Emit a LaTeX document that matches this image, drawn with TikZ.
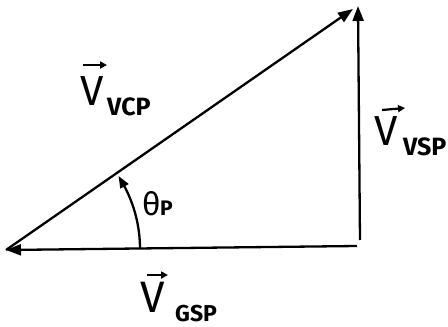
\documentclass[tikz,border=0pt]{standalone}
\usepackage{fontspec}
\setmainfont{Fira Sans}
\usetikzlibrary{arrows.meta,bending}
\begin{document}
\begin{tikzpicture}[x=1pt,y=-1pt,
  vecline/.style={line width=2.3pt,-{Triangle[length=15pt,width=11pt]}},
  arcline/.style={line width=2.3pt,-{Triangle[length=12pt,width=9pt,bend]}},
  hatarrow/.style={line width=2.2pt,-{Triangle[length=7pt,width=7pt]}},
  bigV/.style={font=\fontsize{42}{42}\selectfont,inner sep=0pt,anchor=base west},
  subtxt/.style={font=\fontsize{25}{25}\selectfont\bfseries,inner sep=0pt,anchor=base west},
  thetatxt/.style={font=\fontsize{32}{32}\selectfont,inner sep=0pt,anchor=base west}]
\useasboundingbox (0,0) rectangle (448,327);
\coordinate (A) at (6,250);
\coordinate (B) at (357,246);
\coordinate (C) at (360,240);
\coordinate (D) at (358,6);
\coordinate (E) at (353,9);
\coordinate (F) at (140,249);
\draw[vecline] (B) -- (A);
\draw[vecline] (C) -- (D);
\draw[vecline] (A) -- (E);
\draw[arcline] (F) arc[start angle=0,end angle=-33,radius=134];
% labels
\node[bigV] (v1) at (80,105) {V};
\node[subtxt] (s1) at (107,115) {VCP};
\draw[hatarrow] ([shift={(3,-40)}]v1.base west) -- ([shift={(27,-40)}]v1.base west);
\node[bigV] (v2) at (374,145) {V};
\node[subtxt] (s2) at (403,155) {VSP};
\draw[hatarrow] ([shift={(8,-35)}]v2.base west) -- ([shift={(31,-37)}]v2.base west);
\node[bigV,font=\fontsize{44}{44}\selectfont] (v3) at (140,312) {V};
\node[subtxt,font=\fontsize{23}{23}\selectfont\bfseries] (s3) at (175,321) {GSP};
\draw[hatarrow] ([shift={(7,-37)}]v3.base west) -- ([shift={(28,-37)}]v3.base west);
\node[thetatxt] (t) at (142,215) {θ};
\node[subtxt,font=\fontsize{21}{21}\selectfont\bfseries] (tp) at (160,215) {P};
\end{tikzpicture}
\end{document}
